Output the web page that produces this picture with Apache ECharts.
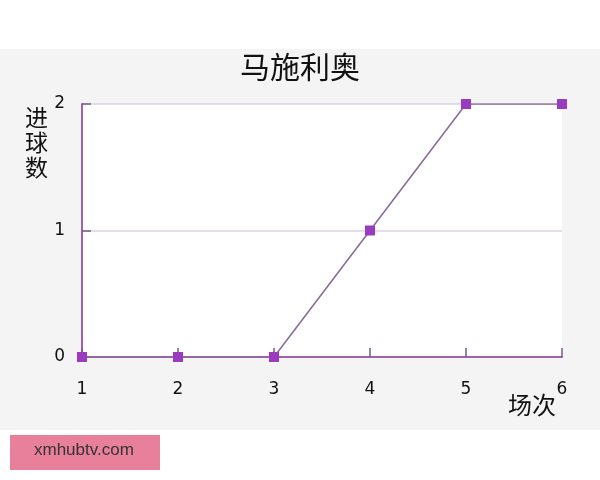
<!DOCTYPE html>
<html>
<head>
<meta charset="utf-8">
<script src="https://cdn.jsdelivr.net/npm/echarts@6/dist/echarts.min.js"></script>
<style>
  html, body { margin: 0; padding: 0; background: #fff; }
  #chart { width: 600px; height: 480px; }
</style>
</head>
<body>
<div id="chart"></div>
<script>
let rounds = [1, 2, 3, 4, 5, 6];
let goals = [0, 0, 0, 1, 2, 2];
let yTicks = [0, 1, 2];

let PURPLE = '#9b3cc0';
let AXIS = '#a060b4';
let GRIDLINE = '#dcd2e2';
let CJK = '"Noto Sans CJK SC", sans-serif';
let DIGITS = '"DejaVu Sans", sans-serif';

let chart = echarts.init(document.getElementById('chart'));

let option = {
  backgroundColor: '#fff',
  animation: false,
  title: {
    text: '马施利奥',
    left: 'center',
    top: 47,
    textStyle: { fontFamily: CJK, fontSize: 30, fontWeight: 'normal', color: '#111' }
  },
  graphic: [
    { type: 'rect', z: -10, silent: true, shape: { x: 0, y: 49, width: 600, height: 381 }, style: { fill: '#f4f4f4' } },
    { type: 'rect', z: -10, silent: true, shape: { x: 10, y: 435, width: 150, height: 35 }, style: { fill: '#e8809c' } },
    { type: 'text', z: 10, left: 34, top: 442, style: { text: 'xmhubtv.com', fontFamily: '"Liberation Sans", sans-serif', fontSize: 17, fill: '#333' } },
    // axis titles
    { type: 'text', z: 10, left: 25, top: 105, style: { text: '进\n球\n数', fontFamily: CJK, fontSize: 23, lineHeight: 25, fill: '#111' } },
    { type: 'text', z: 10, left: 508, top: 393, style: { text: '场次', fontFamily: CJK, fontSize: 24, fill: '#111' } }
  ],
  grid: {
    left: 82, right: 38, top: 104, bottom: 123,
    outerBoundsMode: 'none',
    containLabel: false,
    show: true, backgroundColor: '#fff', borderWidth: 0
  },
  xAxis: {
    type: 'value',
    min: 1, max: 6, interval: 1,
    axisLine: { show: true, lineStyle: { color: AXIS, width: 2 } },
    axisTick: { show: true, inside: true, length: 9, lineStyle: { color: '#7a5a86', width: 1.5 } },
    axisLabel: { margin: 24, fontFamily: DIGITS, fontSize: 17, color: '#111' },
    splitLine: { show: false }
  },
  yAxis: {
    type: 'value',
    min: yTicks[0], max: yTicks[yTicks.length - 1], interval: 1,
    axisLine: { show: true, lineStyle: { color: AXIS, width: 2 } },
    axisTick: { show: true, inside: true, length: 9, lineStyle: { color: '#7a5a86', width: 1.5 } },
    axisLabel: { margin: 17, fontFamily: DIGITS, fontSize: 17, color: '#111' },
    splitLine: { show: true, lineStyle: { color: GRIDLINE, width: 1.5 } }
  },
  series: [{
    type: 'line',
    data: rounds.map((r, i) => [r, goals[i]]),
    symbol: 'rect',
    symbolSize: 10,
    itemStyle: { color: PURPLE },
    lineStyle: { color: '#8a6e98', width: 1.6 },
    z: 5
  }]
};

chart.setOption(option);
</script>
</body>
</html>
